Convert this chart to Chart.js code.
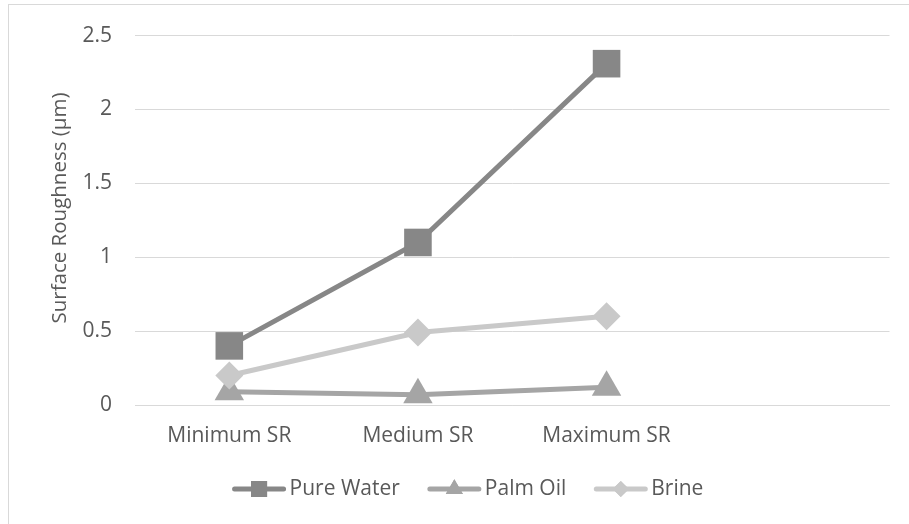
<!DOCTYPE html>
<html>
<head>
<meta charset="utf-8">
<script src="https://cdn.jsdelivr.net/npm/chart.js@4"></script>
<style>
  html, body { margin: 0; padding: 0; background: #fff; }
  #wrap { position: relative; width: 909px; height: 524px; overflow: hidden; }
  #frame { position: absolute; left: 8px; top: 4px; width: 920px; height: 540px;
           border: 1px solid #d9d9d9; box-sizing: border-box; }
  canvas { position: absolute; left: 0; top: 0; }
</style>
</head>
<body>
<div id="wrap">
  <div id="frame"></div>
  <canvas id="c" width="909" height="524"></canvas>
</div>
<script>
// Surface roughness by machining condition and cutting fluid
const categories = ['Minimum SR', 'Medium SR', 'Maximum SR', ''];
const pureWater = [0.40, 1.10, 2.31, null];
const palmOil   = [0.09, 0.07, 0.12, null];
const brine     = [0.20, 0.49, 0.60, null];
const yTicks    = [0, 0.5, 1, 1.5, 2, 2.5];
const yTickLabels = ['0', '0.5', '1', '1.5', '2', '2.5'];
const yTitle    = 'Surface Roughness (µm)';

const FONT = '"Open Sans", "Liberation Sans", sans-serif';
const TEXT = '#595959';
const GRID = '#d9d9d9';

const series = [
  { label: 'Pure Water', data: pureWater, color: '#878787', style: 'rect',    radius: 19.5, order: 2 },
  { label: 'Palm Oil',   data: palmOil,   color: '#a5a5a5', style: 'triangle', radius: 17,   order: 1 },
  { label: 'Brine',      data: brine,     color: '#c9c9c9', style: 'rectRot', radius: 14,   order: 0 }
];

// Rotated axis title on the left
const axisTitlePlugin = {
  id: 'axisTitle',
  afterDraw(chart) {
    const { ctx } = chart;
    ctx.save();
    ctx.translate(60, 208);
    ctx.rotate(-Math.PI / 2);
    ctx.font = '20.5px ' + FONT;
    ctx.fillStyle = TEXT;
    ctx.textAlign = 'center';
    ctx.textBaseline = 'middle';
    ctx.fillText(yTitle, 0, 0);
    ctx.restore();
  }
};

// Legend with a line segment and marker per series
const lineLegendPlugin = {
  id: 'lineLegend',
  afterDraw(chart) {
    const { ctx } = chart;
    const y = 489, lineLen = 53, gapText = 4, gapItem = 28;
    ctx.save();
    ctx.font = '21px ' + FONT;
    const widths = series.map(s => lineLen + gapText + ctx.measureText(s.label).width);
    const total = widths.reduce((a, b) => a + b, 0) + gapItem * (series.length - 1);
    let x = 468 - total / 2;
    series.forEach((s, i) => {
      ctx.strokeStyle = s.color;
      ctx.lineWidth = 5;
      ctx.lineCap = 'round';
      ctx.beginPath();
      ctx.moveTo(x + 2, y);
      ctx.lineTo(x + lineLen - 2, y);
      ctx.stroke();
      ctx.fillStyle = s.color;
      Chart.helpers.drawPoint(ctx, { pointStyle: s.style, radius: s.radius * 0.58, borderWidth: 0 }, x + lineLen / 2, y);
      ctx.fill();
      ctx.fillStyle = TEXT;
      ctx.textAlign = 'left';
      ctx.textBaseline = 'middle';
      ctx.fillText(s.label, x + lineLen + gapText, y);
      x += widths[i] + gapItem;
    });
    ctx.restore();
  }
};

new Chart(document.getElementById('c'), {
  type: 'line',
  data: {
    labels: categories,
    datasets: series.map(s => ({
      label: s.label,
      data: s.data,
      borderColor: s.color,
      backgroundColor: s.color,
      borderWidth: 5,
      pointStyle: s.style,
      pointRadius: s.radius,
      pointHoverRadius: s.radius,
      pointBorderWidth: 0,
      pointBackgroundColor: s.color,
      order: s.order,
      tension: 0,
      clip: false
    }))
  },
  options: {
    responsive: false,
    animation: false,
    events: [],
    layout: { padding: { left: 0, top: 33, right: 17, bottom: 0 } },
    plugins: { legend: { display: false }, tooltip: { enabled: false } },
    scales: {
      x: {
        type: 'category',
        offset: true,
        grid: { display: false, drawTicks: false },
        border: { display: true, color: GRID, width: 1 },
        ticks: { color: TEXT, font: { family: FONT, size: 21 }, padding: 18, maxRotation: 0, autoSkip: false },
        afterFit(scale) { scale.height = 524 - 405; }
      },
      y: {
        min: 0,
        max: 2.5,
        afterBuildTicks(scale) { scale.ticks = yTicks.map(v => ({ value: v })); },
        grid: { color: GRID, lineWidth: 1, drawTicks: false },
        border: { display: false },
        ticks: {
          color: TEXT, font: { family: FONT, size: 21 }, padding: 23,
          callback(value) {
            const i = yTicks.indexOf(value);
            return i >= 0 ? yTickLabels[i] : '';
          }
        },
        afterFit(scale) { scale.width = 135; }
      }
    }
  },
  plugins: [axisTitlePlugin, lineLegendPlugin]
});
</script>
</body>
</html>
